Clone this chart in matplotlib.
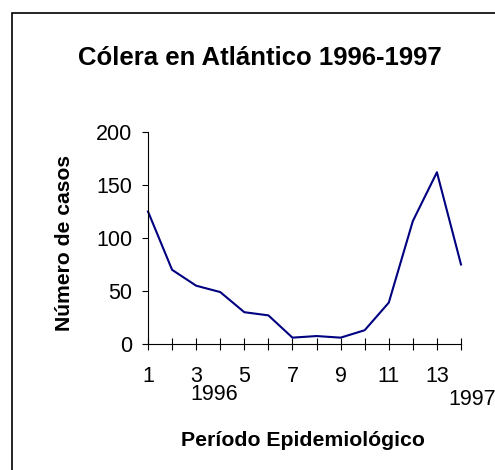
import matplotlib
matplotlib.use('Agg')
import matplotlib.pyplot as plt
from matplotlib.patches import Rectangle

plt.rcParams['font.family'] = ['Liberation Sans', 'DejaVu Sans']

# data
periodos = list(range(1, 15))
casos = [125, 70, 55, 49, 30, 27, 6, 7.5, 6, 13, 39, 116, 162, 75]
tick_labels = ['1', '', '3', '', '5', '', '7', '', '9', '', '11', '', '13', '']
years = ['1996', '1997']
year_x = [3.75, 14.45]

fig = plt.figure(figsize=(4.95, 4.7), dpi=100)
# chart border, only top and left edges fall inside the picture
fig.patches.append(Rectangle((12/495, -1), 2, 2 - 13/470, transform=fig.transFigure,
                             fill=False, edgecolor='black', lw=1.2))

ax = fig.add_axes([148/495, (470-344)/470, (461-148)/495, (344-132)/470])
ax.plot(periodos, casos, color='#000080', lw=1.5, clip_on=False)

ax.set_xlim(1, 14)
ax.set_ylim(0, 200)
ax.set_yticks([0, 50, 100, 150, 200])
ax.set_xticks(periodos)
ax.set_xticklabels(tick_labels)
for s in ['top', 'right']:
    ax.spines[s].set_visible(False)
for s in ['left', 'bottom']:
    ax.spines[s].set_linewidth(0.8)
ax.tick_params(axis='y', direction='out', length=4.5, width=0.8, labelsize=15.5, pad=7)
ax.tick_params(axis='x', direction='inout', length=8, width=0.8, labelsize=15.5, pad=12)

for yr, xx, dy in zip(years, year_x, [-0.236, -0.262]):
    ax.text(xx, dy, yr, transform=ax.get_xaxis_transform(), ha='center', va='center',
            fontsize=15.5, clip_on=False)

fig.text(260/495, 1 - 58/470, 'Cólera en Atlántico 1996-1997', ha='center', va='center',
         fontsize=18.5, fontweight='bold')
fig.text(65/495, 1 - 243/470, 'Número de casos', ha='center', va='center', rotation=90,
         fontsize=15.2, fontweight='bold')
fig.text(303/495, 1 - 440/470, 'Período Epidemiológico', ha='center', va='center',
         fontsize=15.3, fontweight='bold')

fig.savefig('out.png', dpi=100)
